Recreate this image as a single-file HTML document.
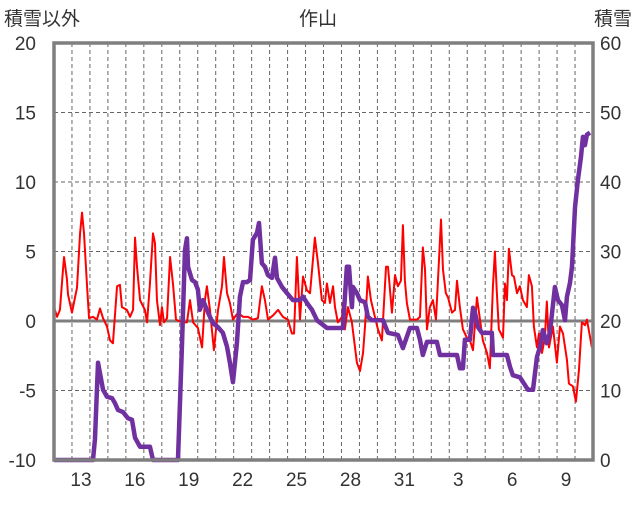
<!DOCTYPE html>
<html><head><meta charset="utf-8"><style>
body{margin:0;background:#fff;}
svg text{font-family:"Liberation Sans","Noto Sans CJK JP",sans-serif;fill:#333;}
</style></head><body>
<svg id="chart" width="636" height="501" viewBox="0 0 636 501" xmlns="http://www.w3.org/2000/svg">
<text x="4" y="25" font-size="19">積雪以外</text>
<text x="318" y="25" font-size="19" text-anchor="middle">作山</text>
<text x="632" y="25" font-size="19" text-anchor="end">積雪</text>
<g id="grid"></g><g id="series"></g><g id="axes"></g>
</svg>
<script>
const leftTicks=[-10,-5,0,5,10,15,20];
const rightTicks=[0,10,20,30,40,50,60];
const dayLabels=["12","13","14","15","16","17","18","19","20","21","22","23","24","25","26","27","28","29","30","31","1","2","3","4","5","6","7","8","9","10"];
const redT=[0,.17,.33,.5,.56,.72,.78,1.0,1.17,1.28,1.45,1.56,1.67,1.84,1.95,2.17,2.39,2.56,2.73,2.95,3.12,3.28,3.51,3.67,3.78,4.06,4.23,4.4,4.51,4.62,4.79,5.06,5.18,5.34,5.51,5.62,5.73,5.9,6.01,6.12,6.29,6.46,6.62,6.79,7.12,7.4,7.57,7.74,8.01,8.24,8.4,8.51,8.68,8.9,9.13,9.35,9.46,9.63,9.79,9.96,10.24,10.52,10.8,11.07,11.35,11.57,11.74,11.91,12.19,12.47,12.74,13.02,13.24,13.36,13.52,13.69,13.86,14.08,14.25,14.52,14.69,14.91,15.08,15.19,15.36,15.53,15.64,15.8,16.03,16.08,16.19,16.36,16.58,16.86,17.03,17.2,17.31,17.47,17.64,17.86,18.03,18.25,18.48,18.59,18.81,18.98,19.14,19.31,19.42,19.53,19.64,19.81,20.2,20.37,20.53,20.65,20.76,20.92,21.09,21.26,21.37,21.54,21.65,21.81,21.93,22.15,22.32,22.43,22.59,22.76,22.98,23.15,23.32,23.54,23.71,23.87,24.1,24.26,24.43,24.54,24.65,24.76,24.99,25.1,25.21,25.32,25.49,25.6,25.77,25.93,26.1,26.32,26.43,26.6,26.71,26.88,26.99,27.16,27.32,27.43,27.55,27.77,27.99,28.16,28.33,28.55,28.66,28.88,29.05,29.22,29.38,29.55,29.66,29.94];
const redV=[1.0,0.3,0.8,3.7,4.6,3,1.9,0.6,1.7,2.4,6.3,7.8,6.3,2.5,0.2,0.3,0.1,0.9,0.2,-0.4,-1.4,-1.6,2.5,2.6,1.0,0.8,0.3,0.8,6.0,3.9,1.5,0.8,-0.1,2.7,6.3,5.6,1.5,-0.3,1.0,-0.1,0.2,4.6,2.7,0.1,-0.1,-0.1,1.5,-0.1,-0.5,-1.9,1.5,2.5,0.8,-2.1,0.8,2.5,4.6,2.0,1.3,0.1,0.6,0.3,0.3,0.1,0.2,2.5,1.5,0.1,0.4,0.8,0.3,0.1,-0.9,-0.9,4.6,0.1,3.2,2.2,2.0,6.0,4.2,1.5,1.3,2.7,1.3,2.5,1.0,-0.1,0.3,1.3,-0.6,1.0,-0.1,-3.0,-3.6,-2.3,-0.4,3.2,1.5,0.3,-0.6,-1.4,3.9,3.9,0.6,3.3,2.5,2.9,6.9,2.9,1.3,0.1,0.1,0.3,5.3,3.7,-0.6,1.0,1.5,0.1,2.9,7.3,3.7,2.0,1.7,0.6,0.8,2.9,1.0,-0.6,-1.2,-1.4,-2.1,1.7,0.1,-1.4,-2.3,-3.4,2.5,5.0,2.0,-0.6,-1.2,2.7,1.5,5.2,3.3,3.2,2.0,2.5,1.5,1.0,3.3,2.5,-0.4,-1.9,-0.9,-2.3,-1.2,1.4,-1.9,-0.4,-3.0,-0.4,-0.9,-2.8,-4.5,-4.7,-5.8,-3.5,-0.1,-0.3,0.1,-1.9];
const snowT=[0,2.17,2.28,2.45,2.73,2.95,3.23,3.39,3.56,3.84,4.12,4.34,4.51,4.79,5.34,5.51,6.9,7.12,7.29,7.4,7.46,7.68,7.85,8.01,8.12,8.29,8.51,8.68,8.85,9.13,9.4,9.63,9.79,9.96,10.18,10.35,10.52,10.74,10.91,11.07,11.3,11.41,11.57,11.74,11.91,12.13,12.3,12.41,12.69,12.97,13.3,13.69,13.86,14.08,14.36,14.64,15.19,16.08,16.3,16.42,16.58,16.64,16.86,17.03,17.31,17.47,17.7,18.31,18.59,19.14,19.42,19.81,20.2,20.37,20.53,20.76,21.31,21.48,22.43,22.59,22.76,22.87,23.15,23.32,23.43,23.6,23.82,24.37,24.43,25.21,25.38,25.54,25.93,26.21,26.38,26.66,26.88,27.05,27.21,27.43,27.6,27.88,28.05,28.27,28.44,28.55,28.72,28.83,29.0,29.16,29.33,29.44,29.55,29.66,29.83];
const snowV=[0,0,3,14.0,10.1,9.1,8.9,8.2,7.2,6.9,6.0,5.8,3.2,1.9,1.9,0,0,16.3,30.2,31.9,27.8,25.9,25.6,24.5,21.6,23.0,21.6,20.6,19.7,19.1,18.3,16.3,14.0,11.2,16.8,23.5,25.6,25.6,25.9,31.7,32.7,34.1,28.3,27.8,26.6,26.2,29.1,26.2,24.9,24.0,23.0,23.0,23.5,22.6,21.6,20.1,19.0,19.0,27.8,27.8,22.0,24.9,24.0,23.0,22.7,20.6,20.1,20.1,18.3,18.0,16.1,19.0,19.0,17.3,15.1,17.0,17.0,15.1,15.1,13.2,13.2,17.3,17.3,21.9,21.2,19.1,18.3,18.3,15.1,15.1,13.4,12.2,11.9,10.8,10.1,10.1,14.8,16.3,18.7,16.8,18.3,24.9,23.0,22.3,20.1,23.5,25.5,27.8,36.4,40.3,43.6,46.5,45.3,46.8,47.1];
const X0=54,X1=593,Y0=43,Y1=460,NS="http://www.w3.org/2000/svg";
const xS=t=>X0+t*(X1-X0)/dayLabels.length;
const yL=v=>Y1-(v+10)*(Y1-Y0)/30;
const yR=v=>Y1-v*(Y1-Y0)/60;
function mk(tag,attrs,parent){const e=document.createElementNS(NS,tag);for(const k in attrs)e.setAttribute(k,attrs[k]);document.getElementById(parent).appendChild(e);return e;}
for(let i=1;i<dayLabels.length;i++){
 const l=mk('line',{x1:xS(i),x2:xS(i),y1:Y0,y2:Y1,stroke:'#666','stroke-width':1,'stroke-dasharray':'4,3'},'grid');
 
 
}
dayLabels.forEach((d,i)=>{
 if((i-1)%3!==0)return;
 const t=mk('text',{x:xS(i+0.5),y:486,'font-size':19,'text-anchor':'middle'},'axes');t.textContent=d;
 
 
});
leftTicks.forEach(v=>{
 if(v!==0&&v!==-10&&v!==20){const l=mk('line',{x1:X0,x2:X1,y1:yL(v),y2:yL(v),stroke:'#666','stroke-width':1,'stroke-dasharray':'4,3'},'grid');
 
 }
 const t=mk('text',{x:36,y:yL(v)+7,'font-size':19,'text-anchor':'end'},'axes');t.textContent=v;
 
 
});
rightTicks.forEach(v=>{
 const t=mk('text',{x:600,y:yR(v)+7,'font-size':19},'axes');t.textContent=v;
 
 
});
const z=mk('line',{x1:X0,x2:X1,y1:yL(0),y2:yL(0),stroke:'#7f7f7f','stroke-width':3},'grid');


const rp=mk('polyline',{points:redT.map((t,i)=>xS(t)+','+yL(redV[i])).join(' '),fill:'none',stroke:'#ff0000','stroke-width':2,'stroke-linejoin':'round'},'series');


const sp=mk('polyline',{points:snowT.map((t,i)=>xS(t)+','+yR(snowV[i])).join(' '),fill:'none',stroke:'#7030a0','stroke-width':4.5,'stroke-linejoin':'round'},'series');


const b=mk('rect',{x:X0,y:Y0,width:X1-X0,height:Y1-Y0,fill:'none',stroke:'#7f7f7f','stroke-width':3.5},'axes');


</script>
</body></html>
